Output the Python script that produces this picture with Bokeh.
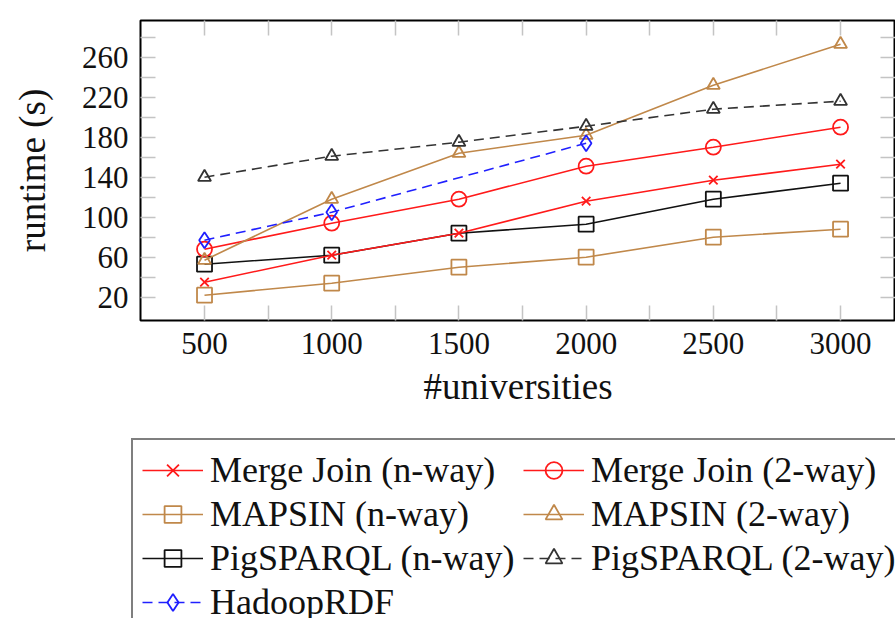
from bokeh.plotting import figure
from bokeh.layouts import column
from bokeh.models import (Range1d, FixedTicker, LinearAxis, Legend, LegendItem,
                          ColumnDataSource)
from bokeh.embed import file_html
from bokeh.resources import INLINE

# ---- data ----
universities = [500, 1000, 1500, 2000, 2500, 3000]
merge_nway = [35, 62, 84, 116, 137, 153]
merge_2way = [68, 94, 118, 151, 170, 190]
mapsin_nway = [22, 34, 50, 60, 80, 88]
mapsin_2way = [57, 118, 164, 182, 232, 273]
pig_nway = [53, 62, 84, 93, 118, 134]
pig_2way = [140, 161, 175, 191, 208, 216]
hadoop_x = [500, 1000, 2000]
hadoop_y = [77, 105, 174]

x_major = [500, 1000, 1500, 2000, 2500, 3000]
x_minor = [750, 1250, 1750, 2250, 2750]
y_major = [20, 60, 100, 140, 180, 220, 260]
y_minor = [40, 80, 120, 160, 200, 240, 280]

RED = "#ff1a1a"
BROWN = "#c0884a"
BLACK = "#111111"
BLUE = "#2020ff"
FONT = "Liberation Serif"
TICK_GRAY = "#c4c4c4"

TOP_H = 436

p = figure(width=895, height=TOP_H, output_backend="svg", toolbar_location=None,
           x_range=Range1d(248.4, 3216), y_range=Range1d(-3.3, 296.7),
           min_border_left=140, min_border_right=0, min_border_top=20,
           min_border_bottom=TOP_H - 320, x_axis_label="#universities",
           y_axis_label="runtime (s)")
p.frame_align = False
p.grid.visible = False
p.outline_line_color = "black"
p.outline_line_width = 2
p.background_fill_color = "white"
p.border_fill_color = "white"

bottom = p.below[0]
left = p.left[0]

xt = FixedTicker(ticks=x_major, minor_ticks=x_minor)
yt = FixedTicker(ticks=y_major, minor_ticks=y_minor)
bottom.ticker = xt
left.ticker = yt

top = LinearAxis(ticker=xt)
right = LinearAxis(ticker=yt)
p.add_layout(top, "above")
p.add_layout(right, "right")

for ax in [bottom, left, top, right]:
    ax.axis_line_color = None
    ax.major_tick_in = 15
    ax.major_tick_out = 0
    ax.minor_tick_in = 15
    ax.minor_tick_out = 0
    ax.major_tick_line_color = TICK_GRAY
    ax.minor_tick_line_color = TICK_GRAY
    ax.major_tick_line_width = 1.5
    ax.minor_tick_line_width = 1.5
    ax.major_label_text_font = FONT
    ax.major_label_text_font_size = "31px"
    ax.major_label_text_color = "#111111"
    ax.axis_label_text_font = FONT
    ax.axis_label_text_font_size = "37px"
    ax.axis_label_text_font_style = "normal"
    ax.axis_label_text_color = "#111111"

for ax in [top, right]:
    ax.major_label_text_font_size = "0px"
    ax.major_label_standoff = 0
    ax.axis_label_standoff = 0

bottom.major_label_standoff = 12
bottom.axis_label_standoff = 9
left.major_label_standoff = 12
left.axis_label_standoff = 26

LW = 1.6
MLW = 1.8

# legend figure (below the chart)
lg = figure(width=895, height=618 - TOP_H, output_backend="svg",
            toolbar_location=None, x_axis_type=None, y_axis_type=None,
            x_range=Range1d(0, 1), y_range=Range1d(0, 1),
            min_border=0, min_border_left=0, min_border_right=0,
            min_border_top=0, min_border_bottom=0)
lg.frame_align = False
lg.grid.visible = False
lg.outline_line_color = None
lg.background_fill_color = "white"
lg.border_fill_color = "white"


def series(xs, ys, color, marker, size, dash="solid"):
    src = ColumnDataSource(dict(x=xs, y=ys))
    out = []
    for fig in (p, lg):
        r_line = fig.line("x", "y", source=src, line_color=color,
                          line_width=LW, line_dash=dash)
        r_mark = fig.scatter("x", "y", source=src, marker=marker, size=size,
                             line_color=color, line_width=MLW, fill_color=None)
        out.append([r_line, r_mark])
    return out[1]


r_mapn = series(universities, mapsin_nway, BROWN, "square", 15)
r_pign = series(universities, pig_nway, BLACK, "square", 15)
r_mjn = series(universities, merge_nway, RED, "x", 12)
r_mj2 = series(universities, merge_2way, RED, "circle", 15)
r_map2 = series(universities, mapsin_2way, BROWN, "triangle", 13)
r_had = series(hadoop_x, hadoop_y, BLUE, "diamond", 16, dash="10 6")
r_pig2 = series(universities, pig_2way, "#333333", "triangle", 13, dash="10 6")

items = [
    LegendItem(label="Merge Join (n-way)", renderers=r_mjn),
    LegendItem(label="MAPSIN (n-way)", renderers=r_mapn),
    LegendItem(label="PigSPARQL (n-way)", renderers=r_pign),
    LegendItem(label="HadoopRDF", renderers=r_had),
    LegendItem(label="Merge Join (2-way)", renderers=r_mj2),
    LegendItem(label="MAPSIN (2-way)", renderers=r_map2),
    LegendItem(label="PigSPARQL (2-way)", renderers=r_pig2),
]
legend = Legend(items=items, orientation="vertical", nrows=4,
                location=(131, -16), padding=9, spacing=2,
                glyph_width=61, glyph_height=42, label_height=40,
                label_width=311, label_standoff=7,
                label_text_font=FONT, label_text_font_size="36px",
                label_text_color="#111111",
                border_line_color="black", border_line_width=2,
                background_fill_color="white", background_fill_alpha=1.0,
                margin=0)
lg.add_layout(legend, "center")

open("out.html", "w").write(file_html(column(p, lg, spacing=0), INLINE))
